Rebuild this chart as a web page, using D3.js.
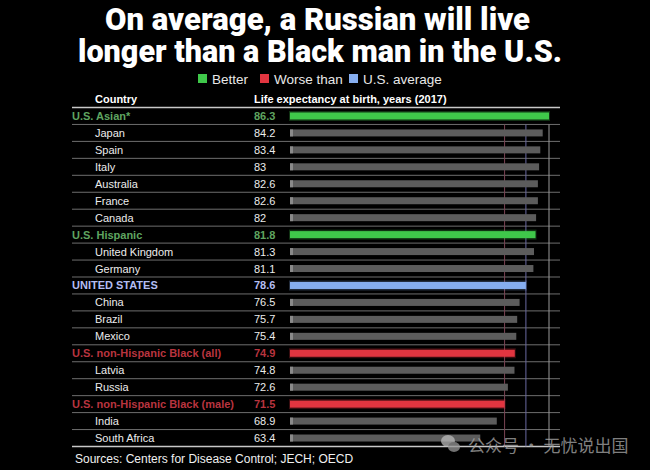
<!DOCTYPE html>
<html><head><meta charset="utf-8">
<script src="https://cdn.jsdelivr.net/npm/d3@7"></script>
<style>
html,body{margin:0;padding:0;background:#000;}
svg{display:block;}
</style></head>
<body>
<svg id="chart" width="650" height="470"></svg>
<script>
const titleLines = ["On average, a Russian will live", "longer than a Black man in the U.S."];
const countries = ["U.S. Asian*","Japan","Spain","Italy","Australia","France","Canada","U.S. Hispanic","United Kingdom","Germany","UNITED STATES","China","Brazil","Mexico","U.S. non-Hispanic Black (all)","Latvia","Russia","U.S. non-Hispanic Black (male)","India","South Africa"];
const values = [86.3,84.2,83.4,83,82.6,82.6,82,81.8,81.3,81.1,78.6,76.5,75.7,75.4,74.9,74.8,72.6,71.5,68.9,63.4];
const valueLabels = ["86.3","84.2","83.4","83","82.6","82.6","82","81.8","81.3","81.1","78.6","76.5","75.7","75.4","74.9","74.8","72.6","71.5","68.9","63.4"];
const groups = ["better","other","other","other","other","other","other","better","other","other","us","other","other","other","worse","other","other","worse","other","other"];
const legendKeys = ["better","worse","us"];
const legendLabels = ["Better","Worse than","U.S. average"];
const refValues = [71.5, 78.6, 86.3];
const refKeys = ["worse","us","top"];
const headerLabels = ["Country","Life expectancy at birth, years (2017)"];
const sourceText = "Sources: Centers for Disease Control; JECH; OECD";
const watermark = "公众号 · 无忧说出国";

const barColor = {better:"#3fc84a", worse:"#e23540", us:"#86aef0", other:"#5c5c5c"};
const textColor = {better:"#5fa560", worse:"#b8343f", us:"#b3bdf2", other:"#ececec"};
const refColor = {worse:"#7a4454", us:"#6868a0", top:"#9a9a9a"};

const svg = d3.select("#chart");

// Title
const titleX = [105, 78];
const titleW = [425, 484];
svg.selectAll("text.title").data(titleLines).join("text")
  .attr("class","title")
  .attr("x", (d,i)=>titleX[i]).attr("y", (d,i)=> 30 + i*32)
  .attr("fill","#fff")
  .attr("font-family","Roboto, 'Liberation Sans', sans-serif")
  .attr("font-weight","900")
  .attr("font-size", 32)
  .attr("textLength",(d,i)=>titleW[i])
  .attr("lengthAdjust","spacingAndGlyphs")
  .text(d=>d);

// Legend
const legendX = [198, 260, 349];
const lg = svg.selectAll("g.leg").data(legendKeys).join("g").attr("class","leg")
  .attr("transform",(d,i)=>`translate(${legendX[i]},84)`);
lg.append("rect").attr("x",0).attr("y",-10).attr("width",9).attr("height",9).attr("fill",d=>barColor[d]);
lg.append("text").attr("x",14).attr("y",0)
  .attr("fill","#e8e8e8").attr("font-family","'Liberation Sans', Arial, sans-serif").attr("font-size",13.5)
  .text((d,i)=>legendLabels[i]);

// Scales
const x = d3.scaleLinear().domain([0, d3.max(values)]).range([290, 549]);
const y = d3.scaleBand().domain(countries).range([107.5, 446.5]).padding(0);
const lineX0 = 72, lineX1 = 560;

// Header
svg.append("text").attr("x",95).attr("y",103).attr("fill","#fff")
  .attr("font-family","'Liberation Sans', Arial, sans-serif").attr("font-weight","700").attr("font-size",11)
  .text(headerLabels[0]);
svg.append("text").attr("x",254).attr("y",103).attr("fill","#fff")
  .attr("font-family","'Liberation Sans', Arial, sans-serif").attr("font-weight","700").attr("font-size",11)
  .text(headerLabels[1]);

// Row separator lines
const seps = countries.map(c => y(c) + y.bandwidth());
svg.append("line").attr("x1",lineX0).attr("x2",lineX1).attr("y1",y(countries[0])).attr("y2",y(countries[0]))
  .attr("stroke","#c8c8c8").attr("stroke-width",1.3);
svg.selectAll("line.sep").data(seps).join("line").attr("class","sep")
  .attr("x1",lineX0).attr("x2",lineX1).attr("y1",d=>d).attr("y2",d=>d)
  .attr("stroke",(d,i)=> i===seps.length-1 ? "#c8c8c8" : "#6e6e6e").attr("stroke-width",(d,i)=> i===seps.length-1 ? 1.3 : 1);

// Reference vertical lines
const refTop = y(countries[1]);
const refBottom = y(countries[countries.length-1]) + y.bandwidth();
svg.selectAll("line.ref").data(refValues).join("line").attr("class","ref")
  .attr("x1",d=>x(d)).attr("x2",d=>x(d))
  .attr("y1",refTop).attr("y2",refBottom)
  .attr("stroke",(d,i)=>refColor[refKeys[i]]).attr("stroke-width",1);

// Bars
const barH = 7;
const rows = svg.selectAll("g.row").data(countries).join("g").attr("class","row")
  .attr("transform",d=>`translate(0,${y(d)+y.bandwidth()/2})`);

rows.filter((d,i)=>groups[i]!=="other").append("rect")
  .attr("x",x(0)-1).attr("y",-barH/2-1.5)
  .attr("width",(d)=>x(values[countries.indexOf(d)])-x(0)+2).attr("height",barH+3)
  .attr("fill",d=>barColor[groups[countries.indexOf(d)]]).attr("opacity",0.25);

rows.append("rect")
  .attr("x",x(0)).attr("y",-barH/2)
  .attr("width",d=>x(values[countries.indexOf(d)])-x(0)).attr("height",barH)
  .attr("fill",d=>barColor[groups[countries.indexOf(d)]]);
rows.filter((d,i)=>groups[i]==="other").append("rect")
  .attr("x",x(0)).attr("y",-barH/2).attr("width",3).attr("height",barH)
  .attr("fill","#8a8a8a");

// Labels
rows.append("text")
  .attr("x",(d,i)=> groups[i]==="other" ? 95 : 72)
  .attr("y",4)
  .attr("fill",(d,i)=>textColor[groups[i]])
  .attr("font-family","'Liberation Sans', Arial, sans-serif")
  .attr("font-weight",(d,i)=> groups[i]==="other" ? "400" : "700")
  .attr("font-size",11)
  .text(d=>d);
rows.append("text")
  .attr("x",254).attr("y",4)
  .attr("fill",(d,i)=>textColor[groups[i]])
  .attr("font-family","'Liberation Sans', Arial, sans-serif")
  .attr("font-weight",(d,i)=> groups[i]==="other" ? "400" : "700")
  .attr("font-size",11)
  .text((d,i)=>valueLabels[i]);

// Source
svg.append("text").attr("x",75).attr("y",463).attr("fill","#f0f0f0")
  .attr("font-family","'Liberation Sans', Arial, sans-serif").attr("font-size",12)
  .text(sourceText);

// Watermark
const wm = svg.append("g").attr("transform","translate(440,446)").attr("opacity",0.75);
wm.append("ellipse").attr("cx",8).attr("cy",-5).attr("rx",7).attr("ry",6).attr("fill","#bbb");
wm.append("ellipse").attr("cx",14).attr("cy",1).attr("rx",6).attr("ry",5).attr("fill","#999");
wm.append("text").attr("x",28).attr("y",6).attr("fill","#aaa")
  .attr("font-family","'Noto Sans CJK SC', sans-serif").attr("font-size",17)
  .text(watermark);
</script>
</body></html>
